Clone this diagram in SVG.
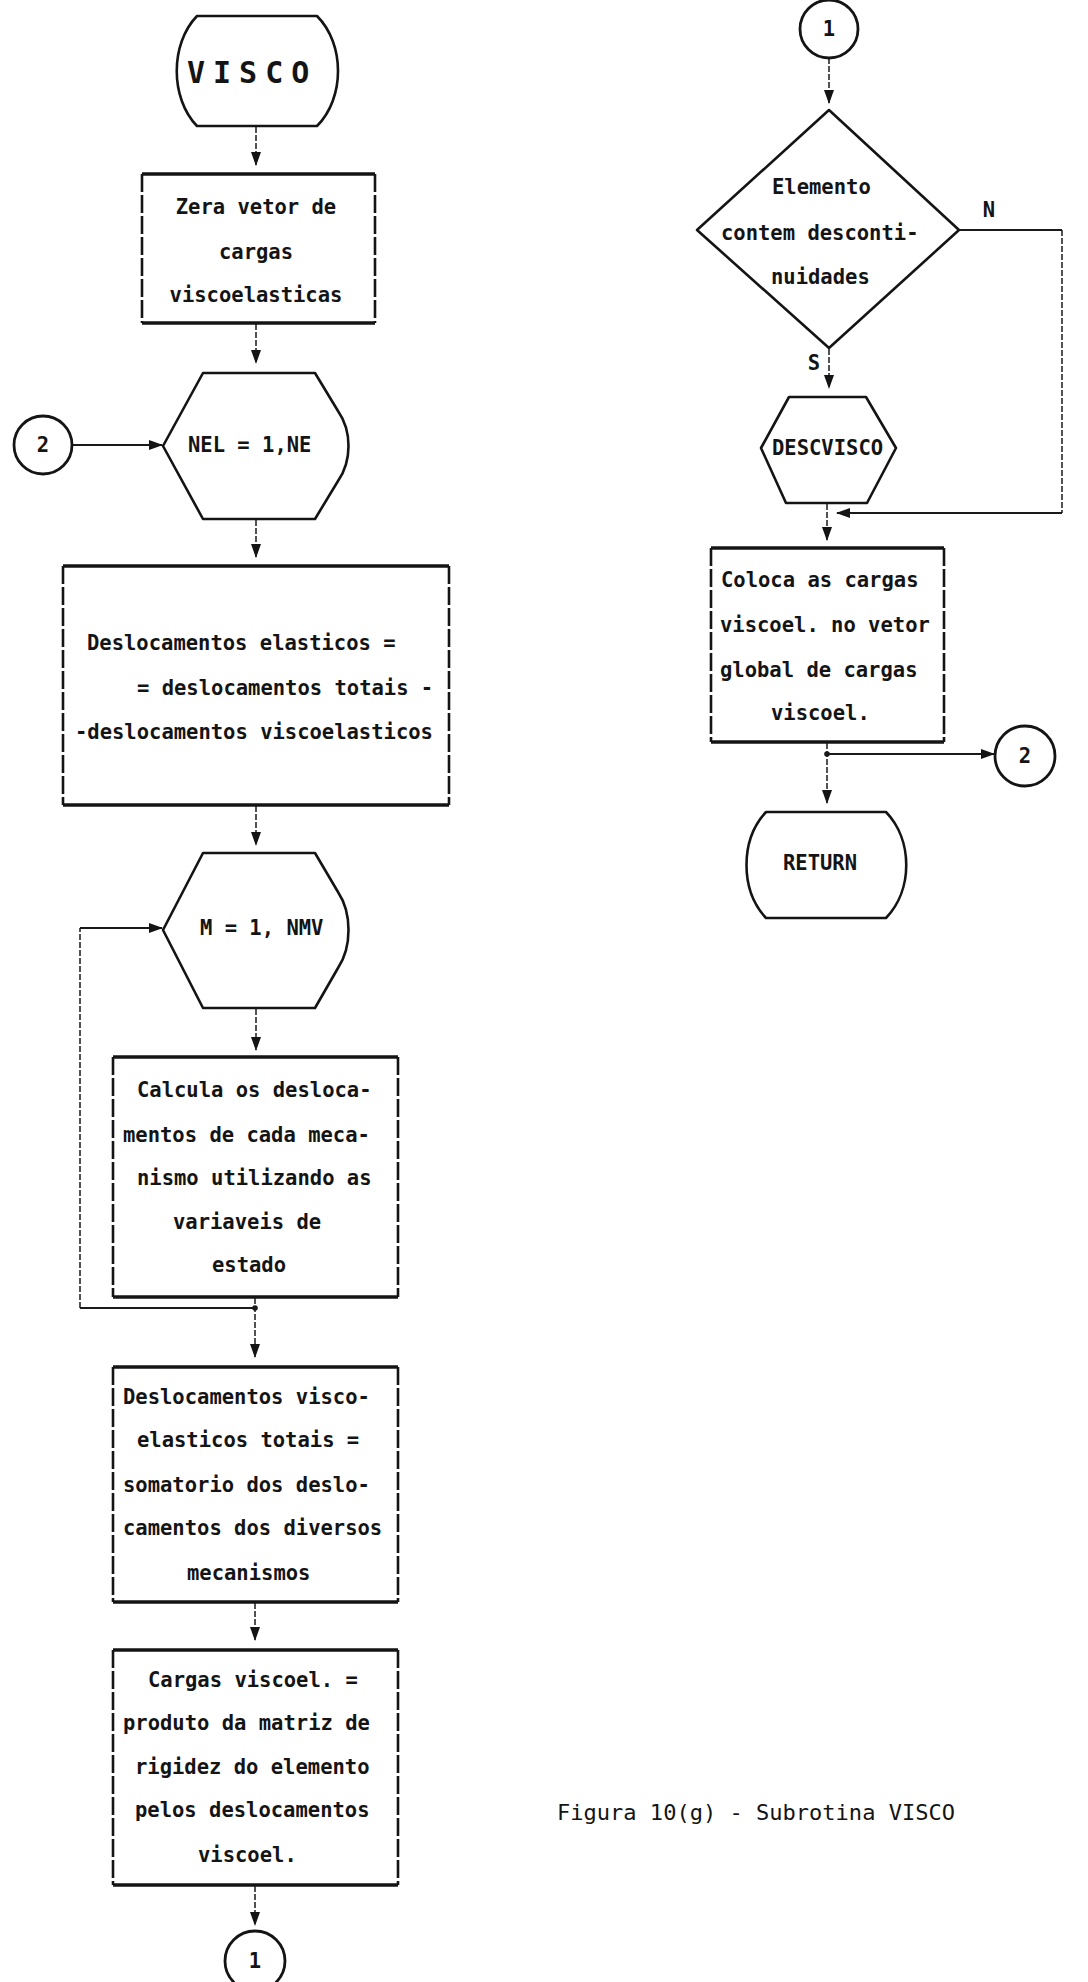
<svg xmlns="http://www.w3.org/2000/svg" width="1088" height="1982" viewBox="0 0 1088 1982">
  <style>
    .bg { fill: #ffffff; }
    .shape { fill: none; stroke: #141414; stroke-width: 2.6; stroke-linejoin: round; }
    .hline { stroke: #141414; stroke-width: 3.6; fill: none; }
    .vline { stroke: #141414; stroke-width: 2.6; fill: none; stroke-dasharray: 18 3; }
    .circ { fill: none; stroke: #141414; stroke-width: 2.8; }
    .flow { fill: none; stroke: #1a1a1a; stroke-width: 1.8; }
    .flowv { fill: none; stroke: #1a1a1a; stroke-width: 1.5; stroke-dasharray: 6 2; }
    .dot { fill: #1a1a1a; }
    .t { font-family: "DejaVu Sans Mono", "Liberation Mono", monospace; font-weight: bold; font-size: 20.5px; fill: #141414; }
    .title { font-family: "DejaVu Sans Mono", "Liberation Mono", monospace; font-weight: bold; font-size: 30px; letter-spacing: 8px; fill: #141414; }
    .cap { font-family: "DejaVu Sans Mono", "Liberation Mono", monospace; font-size: 21px; fill: #141414; }
  </style>
  <defs>
    <marker id="ah" viewBox="0 0 14 10" refX="13" refY="5" markerWidth="14" markerHeight="10" markerUnits="userSpaceOnUse" orient="auto">
      <path d="M0,0 L14,5 L0,10 Z" fill="#141414"/>
    </marker>
  </defs>
  <rect class="bg" x="0" y="0" width="1088" height="1982"/>

  <!-- connectors -->
  <g id="connectors">
    <line class="flowv" x1="256" y1="127" x2="256" y2="165" marker-end="url(#ah)"/>
    <line class="flowv" x1="256" y1="324" x2="256" y2="363" marker-end="url(#ah)"/>
    <line class="flow" x1="72" y1="445" x2="162" y2="445" marker-end="url(#ah)"/>
    <line class="flowv" x1="256" y1="520" x2="256" y2="557" marker-end="url(#ah)"/>
    <line class="flowv" x1="256" y1="806" x2="256" y2="845" marker-end="url(#ah)"/>
    <line class="flowv" x1="256" y1="1009" x2="256" y2="1050" marker-end="url(#ah)"/>
    <!-- loop return of M = 1, NMV -->
    <line class="flow" x1="254" y1="1308" x2="80" y2="1308"/>
    <line class="flowv" x1="80" y1="1308" x2="80" y2="928"/>
    <line class="flow" x1="80" y1="928" x2="162" y2="928" marker-end="url(#ah)"/>
    <line class="flowv" x1="255" y1="1298" x2="255" y2="1357" marker-end="url(#ah)"/>
    <circle class="dot" cx="255" cy="1308" r="2.8"/>
    <line class="flowv" x1="255" y1="1603" x2="255" y2="1640" marker-end="url(#ah)"/>
    <line class="flowv" x1="255" y1="1886" x2="255" y2="1925" marker-end="url(#ah)"/>

    <line class="flowv" x1="829" y1="58" x2="829" y2="103" marker-end="url(#ah)"/>
    <line class="flowv" x1="829" y1="349" x2="829" y2="388" marker-end="url(#ah)"/>
    <!-- N branch -->
    <line class="flow" x1="960" y1="230" x2="1062" y2="230"/>
    <line class="flowv" x1="1062" y1="230" x2="1062" y2="513"/>
    <line class="flow" x1="1062" y1="513" x2="837" y2="513" marker-end="url(#ah)"/>
    <line class="flowv" x1="827" y1="504" x2="827" y2="540" marker-end="url(#ah)"/>
    <line class="flowv" x1="827" y1="743" x2="827" y2="803" marker-end="url(#ah)"/>
    <line class="flow" x1="827" y1="754" x2="994" y2="754" marker-end="url(#ah)"/>
    <circle class="dot" cx="827" cy="754" r="2.8"/>
    <text class="t" x="989" y="217" text-anchor="middle">N</text>
    <text class="t" x="814" y="370" text-anchor="middle">S</text>
  </g>

  <!-- start terminal -->
  <g id="n-visco">
    <path class="shape" stroke-width="3" d="M197,16 H317 C345,44 345,98 317,126 H197 C170,98 170,44 197,16 Z"/>
    <text class="title" x="187" y="83">VISCO</text>
  </g>

  <g id="n-zera">
    <line class="hline" x1="142" y1="174" x2="375" y2="174"/>
    <line class="hline" x1="142" y1="323" x2="375" y2="323"/>
    <line class="vline" x1="142" y1="174" x2="142" y2="323"/>
    <line class="vline" x1="375" y1="174" x2="375" y2="323"/>
    <text class="t" x="256" y="214" text-anchor="middle">Zera vetor de</text>
    <text class="t" x="256" y="259" text-anchor="middle">cargas</text>
    <text class="t" x="256" y="302" text-anchor="middle">viscoelasticas</text>
  </g>

  <g id="c-2-in">
    <circle class="circ" cx="43" cy="445" r="29"/>
    <text class="t" x="43" y="452" text-anchor="middle">2</text>
  </g>

  <g id="n-loop-nel">
    <path class="shape" d="M203,373 H315 L338,411 C352,431 352,461 338,481 L315,519 H203 L163,446 Z"/>
    <text class="t" x="188" y="452">NEL = 1,NE</text>
  </g>

  <g id="n-desl-elast">
    <line class="hline" x1="63" y1="566" x2="449" y2="566"/>
    <line class="hline" x1="63" y1="805" x2="449" y2="805"/>
    <line class="vline" x1="63" y1="566" x2="63" y2="805"/>
    <line class="vline" x1="449" y1="566" x2="449" y2="805"/>
    <text class="t" x="87" y="650">Deslocamentos elasticos =</text>
    <text class="t" x="137" y="695">= deslocamentos totais -</text>
    <text class="t" x="75" y="739">-deslocamentos viscoelasticos</text>
  </g>

  <g id="n-loop-m">
    <path class="shape" d="M203,853 H315 L338,892 C352,913 352,947 338,968 L315,1008 H203 L163,930 Z"/>
    <text class="t" x="200" y="935">M = 1, NMV</text>
  </g>

  <g id="n-calcula">
    <line class="hline" x1="113" y1="1057" x2="398" y2="1057"/>
    <line class="hline" x1="113" y1="1297" x2="398" y2="1297"/>
    <line class="vline" x1="113" y1="1057" x2="113" y2="1297"/>
    <line class="vline" x1="398" y1="1057" x2="398" y2="1297"/>
    <text class="t" x="137" y="1097">Calcula os desloca-</text>
    <text class="t" x="123" y="1142">mentos de cada meca-</text>
    <text class="t" x="137" y="1185">nismo utilizando as</text>
    <text class="t" x="173" y="1229">variaveis de</text>
    <text class="t" x="212" y="1272">estado</text>
  </g>

  <g id="n-desl-visco">
    <line class="hline" x1="113" y1="1367" x2="398" y2="1367"/>
    <line class="hline" x1="113" y1="1602" x2="398" y2="1602"/>
    <line class="vline" x1="113" y1="1367" x2="113" y2="1602"/>
    <line class="vline" x1="398" y1="1367" x2="398" y2="1602"/>
    <text class="t" x="123" y="1404">Deslocamentos visco-</text>
    <text class="t" x="137" y="1447">elasticos totais =</text>
    <text class="t" x="123" y="1492">somatorio dos deslo-</text>
    <text class="t" x="123" y="1535">camentos dos diversos</text>
    <text class="t" x="187" y="1580">mecanismos</text>
  </g>

  <g id="n-cargas">
    <line class="hline" x1="113" y1="1650" x2="398" y2="1650"/>
    <line class="hline" x1="113" y1="1885" x2="398" y2="1885"/>
    <line class="vline" x1="113" y1="1650" x2="113" y2="1885"/>
    <line class="vline" x1="398" y1="1650" x2="398" y2="1885"/>
    <text class="t" x="148" y="1687">Cargas viscoel. =</text>
    <text class="t" x="123" y="1730">produto da matriz de</text>
    <text class="t" x="135" y="1774">rigidez do elemento</text>
    <text class="t" x="135" y="1817">pelos deslocamentos</text>
    <text class="t" x="198" y="1862">viscoel.</text>
  </g>

  <g id="c-1-out">
    <circle class="circ" cx="255" cy="1961" r="30"/>
    <text class="t" x="255" y="1968" text-anchor="middle">1</text>
  </g>

  <g id="c-1-in">
    <circle class="circ" cx="829" cy="29" r="29"/>
    <text class="t" x="829" y="36" text-anchor="middle">1</text>
  </g>

  <g id="n-decisao">
    <path class="shape" d="M829,110 L959,230 L829,348 L697,230 Z"/>
    <text class="t" x="772" y="194">Elemento</text>
    <text class="t" x="721" y="240">contem desconti-</text>
    <text class="t" x="771" y="284">nuidades</text>
  </g>

  <g id="n-descvisco">
    <path class="shape" d="M789,397 H866 L896,448 L867,503 H786 L761,448 Z"/>
    <text class="t" x="772" y="455">DESCVISCO</text>
  </g>

  <g id="n-coloca">
    <line class="hline" x1="711" y1="548" x2="944" y2="548"/>
    <line class="hline" x1="711" y1="742" x2="944" y2="742"/>
    <line class="vline" x1="711" y1="548" x2="711" y2="742"/>
    <line class="vline" x1="944" y1="548" x2="944" y2="742"/>
    <text class="t" x="721" y="587">Coloca as cargas</text>
    <text class="t" x="720" y="632">viscoel. no vetor</text>
    <text class="t" x="720" y="677">global de cargas</text>
    <text class="t" x="771" y="720">viscoel.</text>
  </g>

  <g id="c-2-out">
    <circle class="circ" cx="1025" cy="756" r="30"/>
    <text class="t" x="1025" y="763" text-anchor="middle">2</text>
  </g>

  <g id="n-return">
    <path class="shape" d="M766,812 H886 C913,840 913,890 886,918 H766 C740,890 740,840 766,812 Z"/>
    <text class="t" x="783" y="870">RETURN</text>
  </g>

  <text class="cap" x="557" y="1820" textLength="398" lengthAdjust="spacingAndGlyphs">Figura 10(g) - Subrotina VISCO</text>
</svg>
